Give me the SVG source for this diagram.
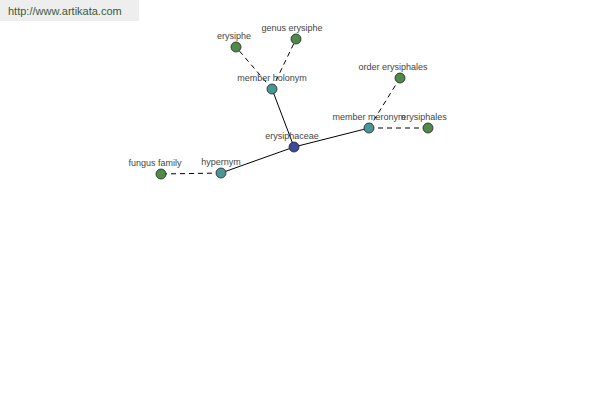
<svg xmlns="http://www.w3.org/2000/svg" width="600" height="400" viewBox="0 0 600 400">
<style>
.lbl{font-family:"Liberation Sans",Arial,sans-serif;font-size:9px;fill:#444;text-anchor:middle}
.solid{stroke:#000;stroke-width:1;fill:none}
.dash{stroke:#000;stroke-width:1;fill:none;stroke-dasharray:5,4}
.c{fill:#3d4a9a;stroke:#222;stroke-width:0.8}
.t{fill:#4a9696;stroke:#222;stroke-width:0.8}
.g{fill:#4e8a48;stroke:#222;stroke-width:0.8}
</style>
<rect x="0" y="0" width="139" height="21" fill="#eeeeee"/>
<text x="8" y="15" font-family="'Liberation Sans',Arial,sans-serif" font-size="11" fill="#3a5a3a">http://www.artikata.com</text>
<g id="connectors">
<line class="solid" x1="294" y1="147" x2="272" y2="89"/>
<line class="solid" x1="294" y1="147" x2="369" y2="128"/>
<line class="solid" x1="294" y1="147" x2="221" y2="173"/>
<line class="dash" x1="272" y1="89" x2="236" y2="47"/>
<line class="dash" x1="272" y1="89" x2="296" y2="39"/>
<line class="dash" x1="369" y1="128" x2="400" y2="78"/>
<line class="dash" x1="369" y1="128" x2="428" y2="128"/>
<line class="dash" x1="221" y1="173" x2="161" y2="174"/>
</g>
<g id="erysiphaceae"><circle class="c" cx="294" cy="147" r="5"/><text class="lbl" x="292" y="139">erysiphaceae</text></g>
<g id="member-holonym"><circle class="t" cx="272" cy="89" r="5"/><text class="lbl" x="272" y="81">member holonym</text></g>
<g id="erysiphe"><circle class="g" cx="236" cy="47" r="5"/><text class="lbl" x="234" y="39">erysiphe</text></g>
<g id="genus-erysiphe"><circle class="g" cx="296" cy="39" r="5"/><text class="lbl" x="292" y="31">genus erysiphe</text></g>
<g id="member-meronym"><circle class="t" cx="369" cy="128" r="5"/><text class="lbl" x="369" y="120">member meronym</text></g>
<g id="order-erysiphales"><circle class="g" cx="400" cy="78" r="5"/><text class="lbl" x="393" y="70">order erysiphales</text></g>
<g id="erysiphales"><circle class="g" cx="428" cy="128" r="5"/><text class="lbl" x="424" y="120">erysiphales</text></g>
<g id="hypernym"><circle class="t" cx="221" cy="173" r="5"/><text class="lbl" x="221" y="165">hypernym</text></g>
<g id="fungus-family"><circle class="g" cx="161" cy="174" r="5"/><text class="lbl" x="155" y="166">fungus family</text></g>
</svg>
